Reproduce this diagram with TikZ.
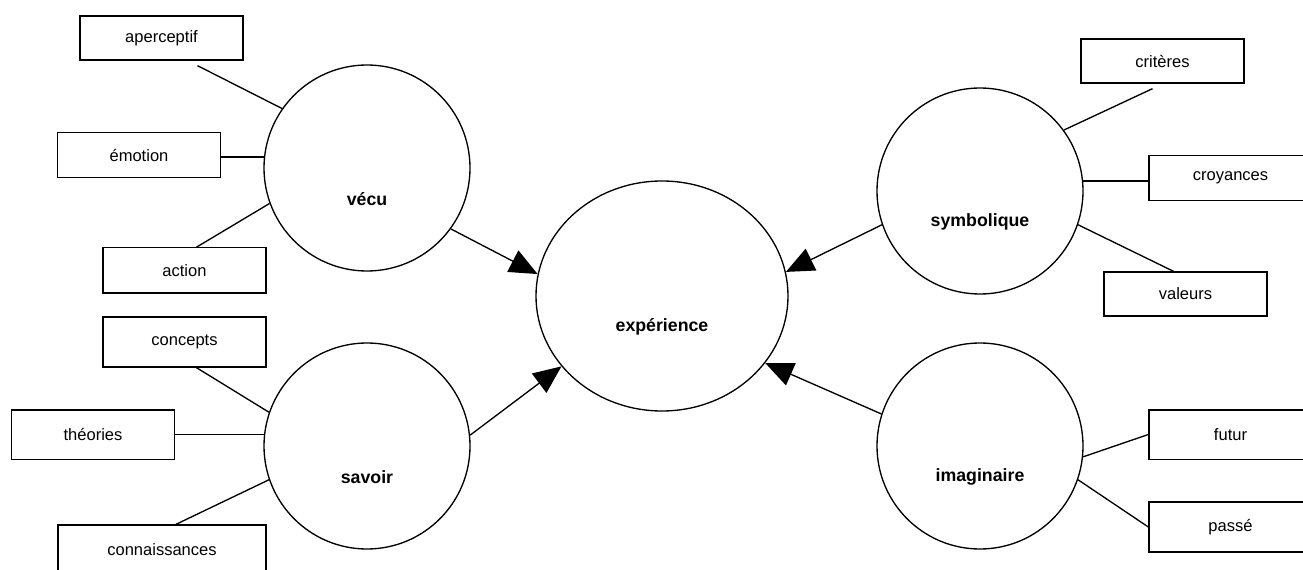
\documentclass[tikz,border=0pt]{standalone}
\usepackage{fontspec}
\setmainfont{Liberation Sans}
\usetikzlibrary{calc, shapes.geometric, arrows.meta}
\newcommand\petittxt{\fontsize{12.4}{14}\selectfont}
\newcommand\grostxt{\fontsize{13.3}{15}\selectfont\bfseries}
\tikzset{
    boite/.style={draw, line width=1pt, inner sep=0pt, minimum width=122.25pt,
        minimum height=#1, font=\petittxt},
    boite/.default=34pt,
    rond/.style={draw, circle, line width=1pt, inner sep=0pt, minimum size=154.5pt,
        label={[font=\grostxt, yshift=-23pt]center:#1}},
    lien/.style={line width=1pt},
    fleche/.style={line width=1pt, -{Triangle[length=21pt, width=18pt]}}
}

\begin{document}
\begin{tikzpicture}[x=0.75pt, y=-0.75pt]
\useasboundingbox (0,0) rectangle (1303,570);

% les cercles
\node[draw, ellipse, line width=1pt, inner sep=0pt, minimum width=189pt, minimum height=172.5pt,
    label={[font=\grostxt, yshift=-23pt]center:expérience}] (exp) at (662,296) {};
\node[rond=vécu] (vecu) at (367,168) {};
\node[rond=savoir] (savoir) at (367,446) {};
\node[rond=symbolique] (symb) at (980,191) {};
\node[rond=imaginaire] (imag) at (980,446) {};

% les boites
\node[boite=33pt] (apercep) at (161.5,38) {aperceptif};
\node[boite] (emotion) at (139,155) {émotion};
\node[boite] (action) at (184.5,270.5) {action};
\node[boite=37.5pt] (concepts) at (184.5,342) {concepts};
\node[boite=37pt] (theories) at (93,434.5) {théories};
\node[boite=37.5pt, minimum width=156pt] (connais) at (162,550) {connaissances};
\node[boite=33pt] (criteres) at (1162.5,61) {critères};
\node[boite] (croyances) at (1230.5,178) {croyances};
\node[boite=33pt] (valeurs) at (1185.5,294) {valeurs};
\node[boite=37pt] (futur) at (1230.5,434.5) {futur};
\node[boite=37.5pt] (passe) at (1230.5,527) {passé};

% liens
\draw[lien] ($(apercep.south)+(36,5)$) -- (vecu.145);
\draw[lien] ($(emotion.east)+(0,2)$) -- ($(emotion.east -| vecu.west)+(1,2)$);
\draw[lien] ($(action.north)+(12,0)$) -- (vecu.200);
\draw[lien] ($(concepts.south)+(12,0)$) -- (savoir.161);
\draw[lien] (theories.east) -- ($(theories.east -| savoir.west)+(1,0)$);
\draw[lien] ($(connais.north)+(14,0)$) -- (savoir.199);
\draw[lien] ($(criteres.south)+(-10,5)$) -- (symb.36);
\draw[lien] ($(croyances.west)+(0,3)$) -- ($(croyances.west -| symb.east)+(-1,3)$);
\draw[lien] ($(valeurs.north)+(-12,0)$) -- (symb.-19);
\draw[lien] (futur.west) -- (imag.-6);
\draw[lien] (passe.west) -- (imag.-19);

% fleches
\draw[fleche] (vecu.-36) -- (exp.170);
\draw[fleche] (savoir.6) -- (exp.215);
\draw[fleche] (symb.199) -- (exp.11);
\draw[fleche] (imag.162) -- (exp.-33);
\end{tikzpicture}
\end{document}
